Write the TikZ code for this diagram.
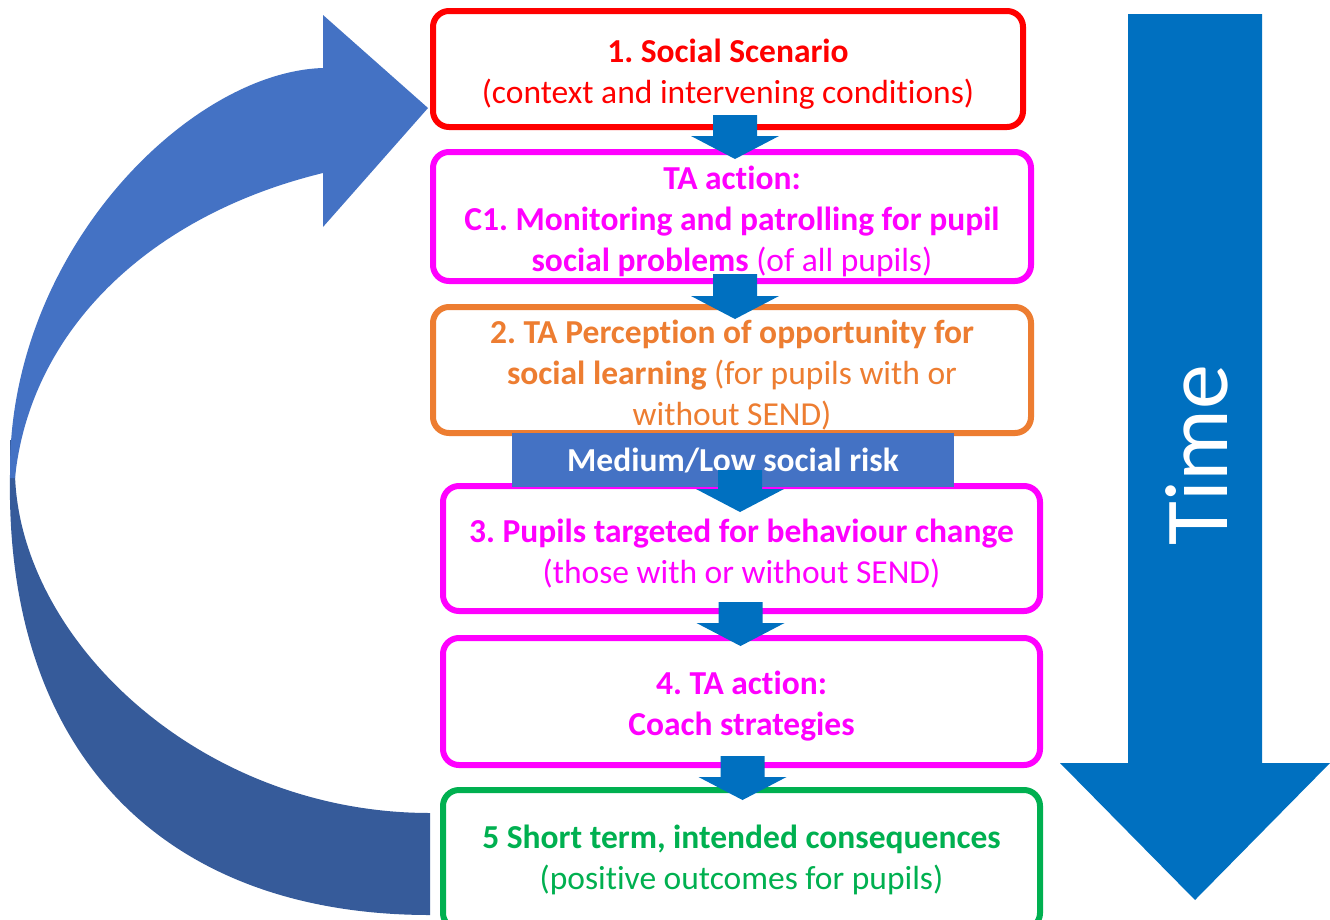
\documentclass[tikz,border=0pt]{standalone}
\usepackage{fontspec}
\setmainfont{Carlito}[Ligatures=NoCommon]
\usetikzlibrary{calc}
\definecolor{cred}{HTML}{FF0000}
\definecolor{cmag}{HTML}{FF00FF}
\definecolor{corange}{HTML}{ED7D31}
\definecolor{cgreen}{HTML}{00B050}
\definecolor{cblue}{HTML}{0070C0}
\definecolor{cbar}{HTML}{4472C4}
\definecolor{ccurvelight}{HTML}{4472C4}
\definecolor{ccurvedark}{HTML}{365B9A}
\newcommand\toppad{\rule{0pt}{33pt}}
\newcommand\blockarr[2]{%
  \path[fill=cblue] let \p1=#1, \p2=#2 in
    (\x1-22pt,\y1) -- (\x1+22pt,\y1) -- (\x1+22pt,\y2+23pt) -- (\x1+44pt,\y2+23pt)
    -- (\x1,\y2) -- (\x1-44pt,\y2+23pt) -- (\x1-22pt,\y2+23pt) -- cycle;}
\begin{document}
\frenchspacing
\begin{tikzpicture}[x=1pt,y=-1pt,
  box/.style={draw, line width=6pt, rounded corners=16pt, fill=white, inner sep=0pt,
    align=center, font=\fontsize{33.5}{41}\selectfont\frenchspacing},
  riskbar/.style={fill=cbar, inner sep=0pt, text=white, minimum width=442pt, minimum height=54pt,
    font=\fontsize{33.5}{41}\selectfont\bfseries},
  timelabel/.style={text=white, rotate=90, inner sep=0pt, font=\fontsize{90}{100}\selectfont}]
\useasboundingbox (0,0) rectangle (1330,919);
\clip (0,0) rectangle (1330,919);
\fill[white] (0,0) rectangle (1330,919);

% curved feedback arrow (back part, darker)
\fill[ccurvedark] (10,440) -- (10,475) .. controls (5,760) and (170,915) .. (430,915)
  -- (430,813) .. controls (200,813) and (20,640) .. (15,475) -- (18,440) -- cycle;
% curved feedback arrow (front part with head)
\fill[ccurvelight] (323,68) -- (323,15) -- (428,108) -- (323,227) -- (323,173)
  .. controls (150,215) and (30,330) .. (15,478) -- (10,478) -- (10,470)
  .. controls (10,250) and (190,72) .. (323,68) -- cycle;

% time arrow
\fill[cblue] (1128,14) -- (1262,14) -- (1262,763) -- (1330,763) -- (1195,900)
  -- (1060,763) -- (1128,763) -- cycle;
\node[timelabel] (time) at (1197,455) {Time};

% boxes
\node[box, draw=cred, text=cred, minimum width=590pt, minimum height=116pt] (b1) at (728,69)
  {\toppad\textbf{1. Social Scenario}\\(context and intervening conditions)};
\node[box, draw=cmag, text=cmag, minimum width=598pt, minimum height=129pt] (c1) at (732,216.5)
  {\toppad\textbf{TA action:}\\\textbf{C1. Monitoring and patrolling for pupil}\\\textbf{social problems} (of all pupils)};
\node[box, draw=corange, text=corange, minimum width=598pt, minimum height=126pt] (b2) at (732,370)
  {\toppad\textbf{2. TA Perception of opportunity for}\\\textbf{social learning} (for pupils with or\\without SEND)};
\node[box, draw=cmag, text=cmag, minimum width=597pt, minimum height=125pt] (b3) at (741.5,548.5)
  {\toppad\textbf{3. Pupils targeted for behaviour change}\\(those with or without SEND)};
\node[box, draw=cmag, text=cmag, minimum width=597pt, minimum height=127pt] (b4) at (741.5,701.5)
  {\toppad\textbf{4. TA action:}\\\textbf{Coach strategies}};
\node[box, draw=cgreen, text=cgreen, minimum width=597pt, minimum height=139pt] (b5) at (741.5,859.5)
  {\textbf{5 Short term, intended consequences}\\(positive outcomes for pupils)};
\node[riskbar] (risk) at (733,460) {Medium/Low social risk};

% block arrows between boxes
\blockarr{([xshift=7pt,yshift=15pt]b1.south)}{([yshift=-10pt]c1.north)}
\blockarr{([xshift=3pt,yshift=10pt]c1.south)}{([yshift=-15pt]b2.north)}
\blockarr{([xshift=7pt,yshift=-10pt]risk.center)}{([yshift=-29pt]b3.north)}
\blockarr{([xshift=-1pt,yshift=12pt]b3.south)}{([yshift=-11pt]b4.north)}
\blockarr{([xshift=1pt,yshift=12pt]b4.south)}{([yshift=-13pt]b5.north)}
\end{tikzpicture}
\end{document}
